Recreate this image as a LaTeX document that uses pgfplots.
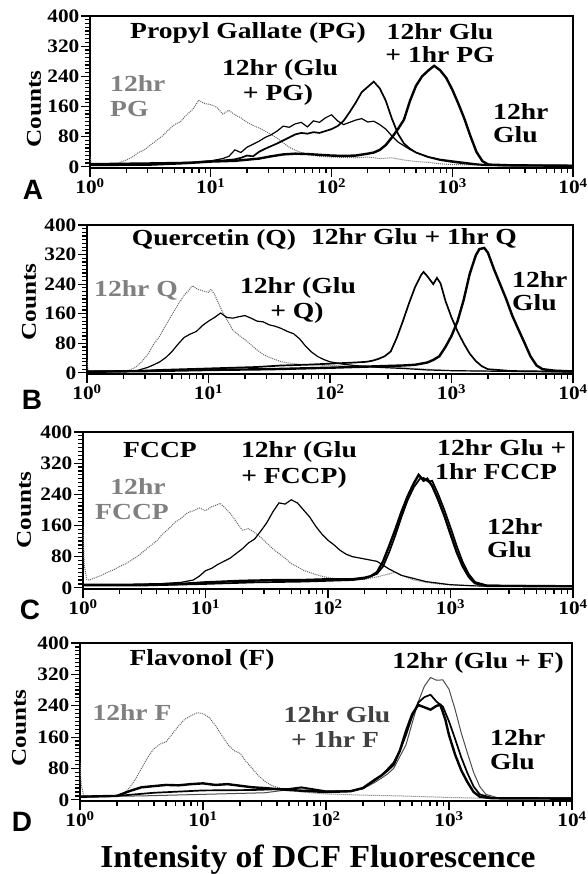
\documentclass[border=0pt]{standalone}
\usepackage{fontspec}
\usepackage{pgfplots}
\pgfplotsset{compat=1.18}
\setmainfont{Liberation Serif}
\newfontfamily\wf{Liberation Serif}[FakeStretch=1.2]
\newfontfamily\wt{Liberation Serif}[FakeStretch=1.12]
\newfontfamily\wfb{Liberation Serif}[FakeStretch=1.05]
\newfontfamily\pf{Liberation Sans}
\newcommand\lab{\wf\bfseries\fontsize{23}{25}\selectfont}
\newcommand\tck{\wt\bfseries\fontsize{19}{20}\selectfont}
\newcommand\cnt{\wf\bfseries\fontsize{21}{22}\selectfont}
\newcommand\pnl{\pf\bfseries\fontsize{28}{28}\selectfont}
\pgfplotsset{
  panel/.style={
    scale only axis,
    xmin=1, xmax=10000, ymin=-3, ymax=400,
    xtick={1,10,100,1000,10000},
    xticklabels={10\textsuperscript{0},10\textsuperscript{1},10\textsuperscript{2},10\textsuperscript{3},10\textsuperscript{4}},
    minor xtick={2,3,4,5,6,7,8,9,20,30,40,50,60,70,80,90,200,300,400,500,600,700,800,900,2000,3000,4000,5000,6000,7000,8000,9000},
    ytick={0,80,160,240,320,400},
    yticklabels={0,80,160,240,320,400},
    minor ytick={10,20,...,390},
    tick align=outside, xtick pos=bottom, ytick pos=left,
    major tick length=9pt, minor tick length=5pt,
    tick style={black, line width=1.2pt},
    axis line style={line width=1.5pt},
    tick label style={font=\tck, inner sep=1.5pt},
  },
  dotc/.style={color=black!60, line width=1pt, densely dotted},
  thinc/.style={black, line width=1.2pt},
  medc/.style={black, line width=1.7pt},
  thickc/.style={black, line width=2.4pt},
}
\begin{document}
\begin{tikzpicture}
\useasboundingbox (0,0) rectangle (587pt,-874pt);
% ---------------- Panel A
\begin{semilogxaxis}[panel, at={(90pt,-168pt)}, anchor=south west, width=483pt, height=152pt]
\addplot[dotc] coordinates {(1,26)(1.023,8)(1.122,5)(1.259,4)(1.413,6)(1.585,5)(1.778,12)(1.995,18)(2.239,26)(2.512,38)(2.818,45)(3.162,58)(3.548,70)(3.981,82)(4.467,98)(5.012,112)(5.623,120)(6.310,138)(7.079,152)(7.943,176)(8.913,168)(10,165)(11.22,158)(12.59,140)(14.13,150)(15.85,138)(17.78,130)(19.95,118)(22.39,110)(25.12,103)(28.18,95)(31.62,86)(35.48,76)(39.81,64)(44.67,52)(50.12,44)(56.23,38)(63.10,33)(79.43,28)(100,26)(125.9,25)(158.5,24)(199.5,26)(251.2,22)(316.2,24)(398.1,18)(501.2,14)(631.0,12)(794.3,8)(1000,6)(1585,5)(3162,4)(10000,4)};
\addplot[thinc] coordinates {(1,5)(3.162,6)(6.310,10)(7.943,14)(10,16)(12.59,22)(14.13,28)(15.85,45)(17.78,38)(19.95,52)(22.39,60)(25.12,68)(28.18,78)(31.62,85)(35.48,95)(39.81,108)(44.67,105)(50.12,114)(56.23,118)(63.10,106)(70.79,122)(79.43,118)(89.13,130)(100,138)(112.2,122)(125.9,112)(141.3,118)(158.5,124)(177.8,128)(199.5,119)(223.9,121)(251.2,112)(281.8,100)(316.2,82)(354.8,66)(398.1,56)(446.7,46)(501.2,38)(631.0,27)(794.3,20)(1000,16)(1259,12)(1585,8)(1995,5)(10000,3)};
\addplot[medc] coordinates {(1,8)(3.162,10)(7.943,12)(10,15)(12.59,17)(15.85,20)(17.78,24)(19.95,30)(22.39,28)(25.12,40)(28.18,48)(31.62,55)(35.48,62)(39.81,70)(44.67,78)(50.12,86)(56.23,90)(63.10,88)(70.79,92)(79.43,90)(89.13,95)(100,100)(112.2,108)(125.9,122)(141.3,145)(158.5,170)(177.8,198)(199.5,212)(223.9,226)(251.2,208)(281.8,175)(316.2,128)(354.8,88)(398.1,62)(446.7,48)(501.2,38)(631.0,26)(794.3,18)(1000,13)(1259,9)(1585,6)(1995,4)(10000,3)};
\addplot[thickc] coordinates {(1,5)(3.162,6)(6.310,10)(10,14)(15.85,16)(25.12,22)(31.62,28)(39.81,33)(50.12,35)(63.10,34)(79.43,32)(100,30)(125.9,29)(158.5,30)(199.5,35)(223.9,38)(251.2,45)(281.8,58)(316.2,78)(354.8,100)(398.1,125)(446.7,175)(501.2,215)(562.3,240)(631.0,255)(707.9,268)(794.3,256)(891.3,236)(1000,205)(1122,168)(1259,128)(1413,82)(1585,40)(1778,15)(1995,6)(3162,4)(10000,3)};
\end{semilogxaxis}
% ---------------- Panel B
\begin{semilogxaxis}[panel, at={(87pt,-374pt)}, anchor=south west, width=486pt, height=149pt]
\addplot[dotc] coordinates {(1,35)(1.023,5)(1.259,3)(1.585,3)(1.995,4)(2.239,8)(2.512,15)(2.818,30)(3.162,50)(3.548,78)(3.981,100)(4.467,130)(5.012,158)(5.623,185)(6.310,210)(7.079,228)(7.413,236)(7.943,228)(8.913,222)(10,218)(10.47,226)(11.22,212)(12.59,175)(14.13,145)(15.85,116)(17.78,102)(19.95,90)(22.39,76)(25.12,62)(28.18,50)(31.62,42)(35.48,36)(39.81,30)(50.12,25)(63.10,22)(100,20)(158.5,18)(251.2,16)(398.1,14)(631.0,10)(1000,6)(1585,5)(10000,4)};
\addplot[thinc] coordinates {(1,5)(2.512,5)(2.818,10)(3.162,15)(3.548,22)(3.981,30)(4.467,42)(5.012,58)(5.623,78)(6.310,96)(7.079,105)(7.943,112)(8.913,128)(10,140)(11.22,150)(12.59,162)(14.13,150)(15.85,148)(17.78,152)(19.95,155)(22.39,148)(25.12,140)(28.18,138)(31.62,130)(35.48,126)(39.81,120)(44.67,112)(50.12,106)(56.23,92)(63.10,72)(70.79,56)(79.43,44)(89.13,36)(100,30)(125.9,24)(158.5,20)(251.2,15)(398.1,12)(631.0,8)(1000,6)(3162,4)(10000,3)};
\addplot[medc] coordinates {(1,3)(2.512,5)(3.981,8)(6.310,10)(10,12)(15.85,14)(25.12,16)(39.81,20)(63.10,22)(100,25)(158.5,28)(199.5,30)(223.9,33)(251.2,38)(281.8,45)(316.2,58)(354.8,95)(398.1,140)(446.7,188)(501.2,232)(562.3,265)(588.8,273)(631.0,262)(707.9,240)(758.6,257)(812.8,242)(891.3,195)(1000,150)(1122,112)(1259,80)(1413,52)(1585,32)(1778,18)(1995,10)(3162,5)(10000,3)};
\addplot[thickc] coordinates {(1,3)(3.162,5)(10,8)(31.62,10)(100,14)(251.2,18)(398.1,20)(501.2,22)(631.0,28)(707.9,35)(794.3,45)(891.3,70)(1000,100)(1122,140)(1259,197)(1413,268)(1585,318)(1698,335)(1862,338)(1995,325)(2239,280)(2512,240)(2818,200)(3162,155)(3548,118)(3981,82)(4467,45)(5012,20)(5623,10)(7079,6)(10000,4)};
\end{semilogxaxis}
% ---------------- Panel C
\begin{semilogxaxis}[panel, at={(83pt,-589pt)}, anchor=south west, width=490pt, height=157pt]
\addplot[dotc] coordinates {(1,156)(1.023,60)(1.072,22)(1.122,20)(1.259,26)(1.413,32)(1.585,40)(1.778,46)(1.995,55)(2.239,62)(2.512,72)(2.818,82)(3.162,95)(3.548,108)(3.981,120)(4.467,138)(5.012,152)(5.623,168)(6.310,178)(7.079,192)(7.943,198)(8.913,205)(10,198)(11.22,208)(12.59,214)(13.18,217)(14.13,208)(15.85,192)(17.78,170)(19.95,148)(22.39,152)(25.12,142)(28.18,130)(31.62,115)(35.48,100)(39.81,88)(44.67,76)(50.12,62)(56.23,54)(63.10,45)(79.43,34)(100,26)(125.9,22)(158.5,20)(199.5,22)(251.2,28)(316.2,36)(354.8,40)(398.1,32)(501.2,20)(631.0,14)(794.3,10)(1000,8)(1585,5)(10000,5)};
\addplot[thinc] coordinates {(1,8)(2.512,8)(3.981,10)(6.310,14)(7.943,20)(8.913,30)(10,44)(11.22,50)(12.59,60)(14.13,68)(15.85,76)(17.78,88)(19.95,100)(22.39,115)(25.12,125)(28.18,145)(31.62,167)(35.48,195)(39.81,218)(44.67,215)(50.12,226)(56.23,218)(63.10,200)(70.79,182)(79.43,158)(89.13,138)(100,122)(112.2,110)(125.9,96)(141.3,86)(158.5,80)(199.5,74)(251.2,68)(316.2,48)(398.1,32)(501.2,24)(631.0,16)(1000,8)(1585,5)(10000,4)};
\addplot[medc] coordinates {(1,6)(3.162,6)(10,10)(25.12,14)(63.10,16)(100,18)(158.5,20)(199.5,24)(251.2,36)(281.8,55)(316.2,92)(354.8,135)(398.1,182)(446.7,225)(501.2,258)(562.3,280)(602.6,282)(660.7,272)(707.9,275)(794.3,240)(891.3,200)(1000,155)(1122,108)(1259,66)(1413,35)(1585,15)(1995,6)(10000,4)};
\addplot[thickc] coordinates {(1,8)(2.512,8)(6.310,10)(10,14)(19.95,18)(39.81,20)(63.10,20)(100,22)(158.5,22)(199.5,26)(223.9,30)(251.2,40)(281.8,68)(316.2,108)(354.8,150)(398.1,195)(446.7,235)(501.2,268)(549.5,290)(602.6,275)(645.7,280)(707.9,262)(794.3,226)(891.3,185)(1000,138)(1122,92)(1259,55)(1413,28)(1585,12)(1995,5)(10000,4)};
\end{semilogxaxis}
% ---------------- Panel D
\begin{semilogxaxis}[panel, at={(80pt,-801pt)}, anchor=south west, width=492pt, height=158pt]
\addplot[dotc] coordinates {(1,94)(1.023,40)(1.072,10)(1.259,8)(1.585,8)(1.995,10)(2.239,15)(2.512,30)(2.818,52)(3.162,80)(3.548,108)(3.981,130)(4.467,142)(5.012,148)(5.623,168)(6.310,188)(7.079,205)(7.943,214)(8.913,222)(10,220)(11.22,210)(12.59,190)(14.13,166)(15.85,142)(17.78,126)(19.95,119)(22.39,98)(25.12,80)(28.18,62)(31.62,48)(35.48,38)(39.81,32)(50.12,25)(63.10,20)(100,15)(199.5,12)(398.1,10)(1000,6)(1995,4)(10000,4)};
\addplot[black!70, line width=1pt] coordinates {(1,8)(3.162,10)(10,14)(31.62,18)(50.12,26)(63.10,30)(79.43,24)(100,22)(158.5,22)(199.5,28)(251.2,45)(281.8,55)(316.2,66)(354.8,80)(398.1,110)(446.7,140)(501.2,195)(562.3,250)(631.0,290)(707.9,312)(794.3,305)(891.3,306)(1000,282)(1122,230)(1259,170)(1413,119)(1585,70)(1778,34)(1995,14)(2512,5)(10000,4)};
\addplot[medc] coordinates {(1,8)(1.995,10)(3.981,18)(10,24)(25.12,25)(50.12,28)(63.10,32)(100,22)(158.5,22)(199.5,30)(251.2,50)(281.8,62)(316.2,78)(354.8,95)(398.1,125)(446.7,165)(501.2,212)(562.3,248)(631.0,262)(707.9,268)(794.3,250)(891.3,238)(1000,200)(1122,155)(1259,108)(1413,68)(1585,34)(1778,14)(2239,5)(10000,4)};
\addplot[thickc] coordinates {(1,8)(1.995,10)(2.512,22)(3.162,32)(3.981,35)(5.012,38)(6.310,37)(7.943,40)(10,42)(12.59,38)(15.85,40)(19.95,36)(25.12,32)(31.62,30)(50.12,25)(100,20)(158.5,22)(199.5,30)(251.2,52)(281.8,62)(316.2,75)(354.8,90)(398.1,125)(446.7,175)(501.2,218)(562.3,242)(631.0,236)(707.9,230)(794.3,240)(851.1,242)(933.3,205)(1000,165)(1122,115)(1259,75)(1413,45)(1585,20)(1778,8)(2239,4)(10000,3)};
\end{semilogxaxis}
% ---------------- annotations
\tikzset{lb/.style={font=\lab, inner sep=0pt}, gl/.style={font=\lab, inner sep=0pt, text=black!50}}
% A
\node[lb] at (248pt,-33pt) {Propyl Gallate (PG)};
\node[lb] at (440pt,-32pt) {12hr Glu};
\node[lb] at (440pt,-55pt) {+ 1hr PG};
\node[lb] at (280pt,-70pt) {12hr (Glu};
\node[lb] at (278pt,-95pt) {+ PG)};
\node[gl, anchor=west] at (110pt,-84pt) {12hr};
\node[gl, anchor=west] at (110pt,-109pt) {PG};
\node[lb, anchor=west] at (493pt,-112pt) {12hr};
\node[lb, anchor=west] at (493pt,-135pt) {Glu};
\node[font=\pnl, inner sep=0pt] at (33pt,-190pt) {A};
\node[font=\cnt, rotate=90, inner sep=0pt] at (34pt,-109pt) {Counts};
% B
\node[lb] at (214pt,-240pt) {Quercetin (Q)};
\node[lb] at (414pt,-238pt) {12hr Glu + 1hr Q};
\node[lb] at (298pt,-288pt) {12hr (Glu};
\node[lb] at (297pt,-313pt) {+ Q)};
\node[gl] at (136pt,-290pt) {12hr Q};
\node[lb, anchor=west] at (512pt,-280pt) {12hr};
\node[lb, anchor=west] at (512pt,-303pt) {Glu};
\node[font=\pnl, inner sep=0pt] at (32pt,-400pt) {B};
\node[font=\cnt, rotate=90, inner sep=0pt] at (29pt,-302pt) {Counts};
% C
\node[lb] at (160pt,-450pt) {FCCP};
\node[lb] at (299pt,-452pt) {12hr (Glu};
\node[lb] at (294pt,-478pt) {+ FCCP)};
\node[gl] at (138pt,-487pt) {12hr};
\node[gl] at (132pt,-512pt) {FCCP};
\node[lb, anchor=west] at (437pt,-448pt) {12hr Glu +};
\node[lb, anchor=west] at (435pt,-472pt) {1hr FCCP};
\node[lb, anchor=west] at (487pt,-527pt) {12hr};
\node[lb, anchor=west] at (487pt,-550pt) {Glu};
\node[font=\pnl, inner sep=0pt] at (30pt,-610pt) {C};
\node[font=\cnt, rotate=90, inner sep=0pt] at (24pt,-510pt) {Counts};
% D
\node[lb] at (202pt,-660pt) {Flavonol (F)};
\node[lb] at (478pt,-663pt) {12hr (Glu + F)};
\node[lb, text=black!75] at (337pt,-715pt) {12hr Glu};
\node[lb, text=black!75] at (335pt,-740pt) {+ 1hr F};
\node[gl] at (132pt,-713pt) {12hr F};
\node[lb, anchor=west] at (490pt,-738pt) {12hr};
\node[lb, anchor=west] at (490pt,-762pt) {Glu};
\node[font=\pnl, inner sep=0pt] at (22pt,-822pt) {D};
\node[font=\cnt, rotate=90, inner sep=0pt] at (19pt,-728pt) {Counts};
\node[font=\wfb\bfseries\fontsize{32}{34}\selectfont, inner sep=0pt] at (318pt,-860pt) {Intensity of DCF Fluorescence};
\end{tikzpicture}
\end{document}
